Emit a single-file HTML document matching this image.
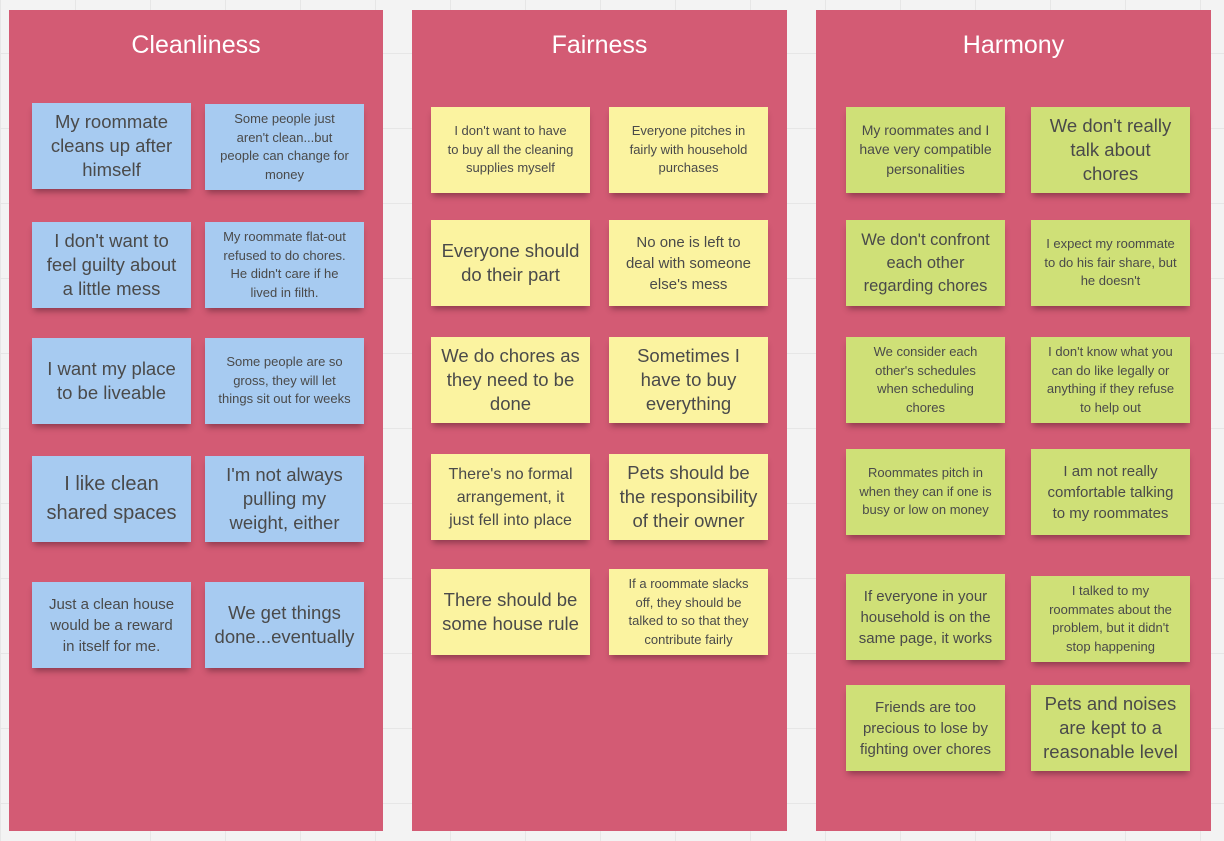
<!DOCTYPE html>
<html><head><meta charset="utf-8"><style>
body{margin:0;width:1224px;height:841px;position:relative;overflow:hidden;background:#f3f3f3;
background-image:linear-gradient(#e6e6e6 1px,transparent 1px),linear-gradient(90deg,#e6e6e6 1px,transparent 1px);background-size:75px 75px;background-position:0 -22px;font-family:"Liberation Sans",sans-serif}
.p{position:absolute;top:10px;height:821px;background:#d35b74}
.t{position:absolute;top:31px;color:#fff;font-size:25px;text-align:center}
.n{position:absolute;width:159px;height:86px;display:flex;align-items:center;justify-content:center;text-align:center;color:#4a4a4a;box-sizing:border-box;padding:0 2px;white-space:nowrap;box-shadow:0 5px 6px -2px rgba(60,20,30,.45)}
.b{background:#a7cbf1}.y{background:#fbf3a0}.g{background:#cfe077}
.L{font-size:18.5px;line-height:24px}.M{font-size:15px;line-height:21px}.S{font-size:13px;line-height:18.5px}
</style></head><body>
<div class="p" style="left:9px;width:374px"></div>
<div class="p" style="left:412px;width:375px"></div>
<div class="p" style="left:816px;width:395px"></div>
<div class="t" style="left:9px;width:374px">Cleanliness</div>
<div class="t" style="left:412px;width:375px">Fairness</div>
<div class="t" style="left:816px;width:395px">Harmony</div>

<div class="n b L" style="left:32px;top:103px">My roommate<br>cleans up after<br>himself</div>
<div class="n b S" style="left:205px;top:104px">Some people just<br>aren't clean...but<br>people can change for<br>money</div>
<div class="n b L" style="left:32px;top:222px">I don't want to<br>feel guilty about<br>a little mess</div>
<div class="n b S" style="left:205px;top:222px">My roommate flat-out<br>refused to do chores.<br>He didn't care if he<br>lived in filth.</div>
<div class="n b L" style="left:32px;top:338px">I want my place<br>to be liveable</div>
<div class="n b S" style="left:205px;top:338px">Some people are so<br>gross, they will let<br>things sit out for weeks</div>
<div class="n b L" style="left:32px;top:456px;font-size:20px;line-height:29px">I like clean<br>shared spaces</div>
<div class="n b L" style="left:205px;top:456px">I'm not always<br>pulling my<br>weight, either</div>
<div class="n b M" style="left:32px;top:582px">Just a clean house<br>would be a reward<br>in itself for me.</div>
<div class="n b L" style="left:205px;top:582px">We get things<br>done...eventually</div>

<div class="n y S" style="left:431px;top:107px">I don't want to have<br>to buy all the cleaning<br>supplies myself</div>
<div class="n y S" style="left:609px;top:107px">Everyone pitches in<br>fairly with household<br>purchases</div>
<div class="n y L" style="left:431px;top:220px">Everyone should<br>do their part</div>
<div class="n y M" style="left:609px;top:220px">No one is left to<br>deal with someone<br>else's mess</div>
<div class="n y L" style="left:431px;top:337px">We do chores as<br>they need to be<br>done</div>
<div class="n y L" style="left:609px;top:337px">Sometimes I<br>have to buy<br>everything</div>
<div class="n y M" style="left:431px;top:454px;font-size:16px;line-height:23px">There's no formal<br>arrangement, it<br>just fell into place</div>
<div class="n y L" style="left:609px;top:454px">Pets should be<br>the responsibility<br>of their owner</div>
<div class="n y L" style="left:431px;top:569px">There should be<br>some house rule</div>
<div class="n y S" style="left:609px;top:569px">If a roommate slacks<br>off, they should be<br>talked to so that they<br>contribute fairly</div>

<div class="n g S" style="left:846px;top:107px;font-size:14px;line-height:19.5px">My roommates and I<br>have very compatible<br>personalities</div>
<div class="n g L" style="left:1031px;top:107px">We don't really<br>talk about<br>chores</div>
<div class="n g M" style="left:846px;top:220px;font-size:16.5px;line-height:23px">We don't confront<br>each other<br>regarding chores</div>
<div class="n g S" style="left:1031px;top:220px">I expect my roommate<br>to do his fair share, but<br>he doesn't</div>
<div class="n g S" style="left:846px;top:337px">We consider each<br>other's schedules<br>when scheduling<br>chores</div>
<div class="n g S" style="left:1031px;top:337px">I don't know what you<br>can do like legally or<br>anything if they refuse<br>to help out</div>
<div class="n g S" style="left:846px;top:449px">Roommates pitch in<br>when they can if one is<br>busy or low on money</div>
<div class="n g M" style="left:1031px;top:449px">I am not really<br>comfortable talking<br>to my roommates</div>
<div class="n g M" style="left:846px;top:574px">If everyone in your<br>household is on the<br>same page, it works</div>
<div class="n g S" style="left:1031px;top:576px">I talked to my<br>roommates about the<br>problem, but it didn't<br>stop happening</div>
<div class="n g M" style="left:846px;top:685px">Friends are too<br>precious to lose by<br>fighting over chores</div>
<div class="n g L" style="left:1031px;top:685px">Pets and noises<br>are kept to a<br>reasonable level</div>
</body></html>
